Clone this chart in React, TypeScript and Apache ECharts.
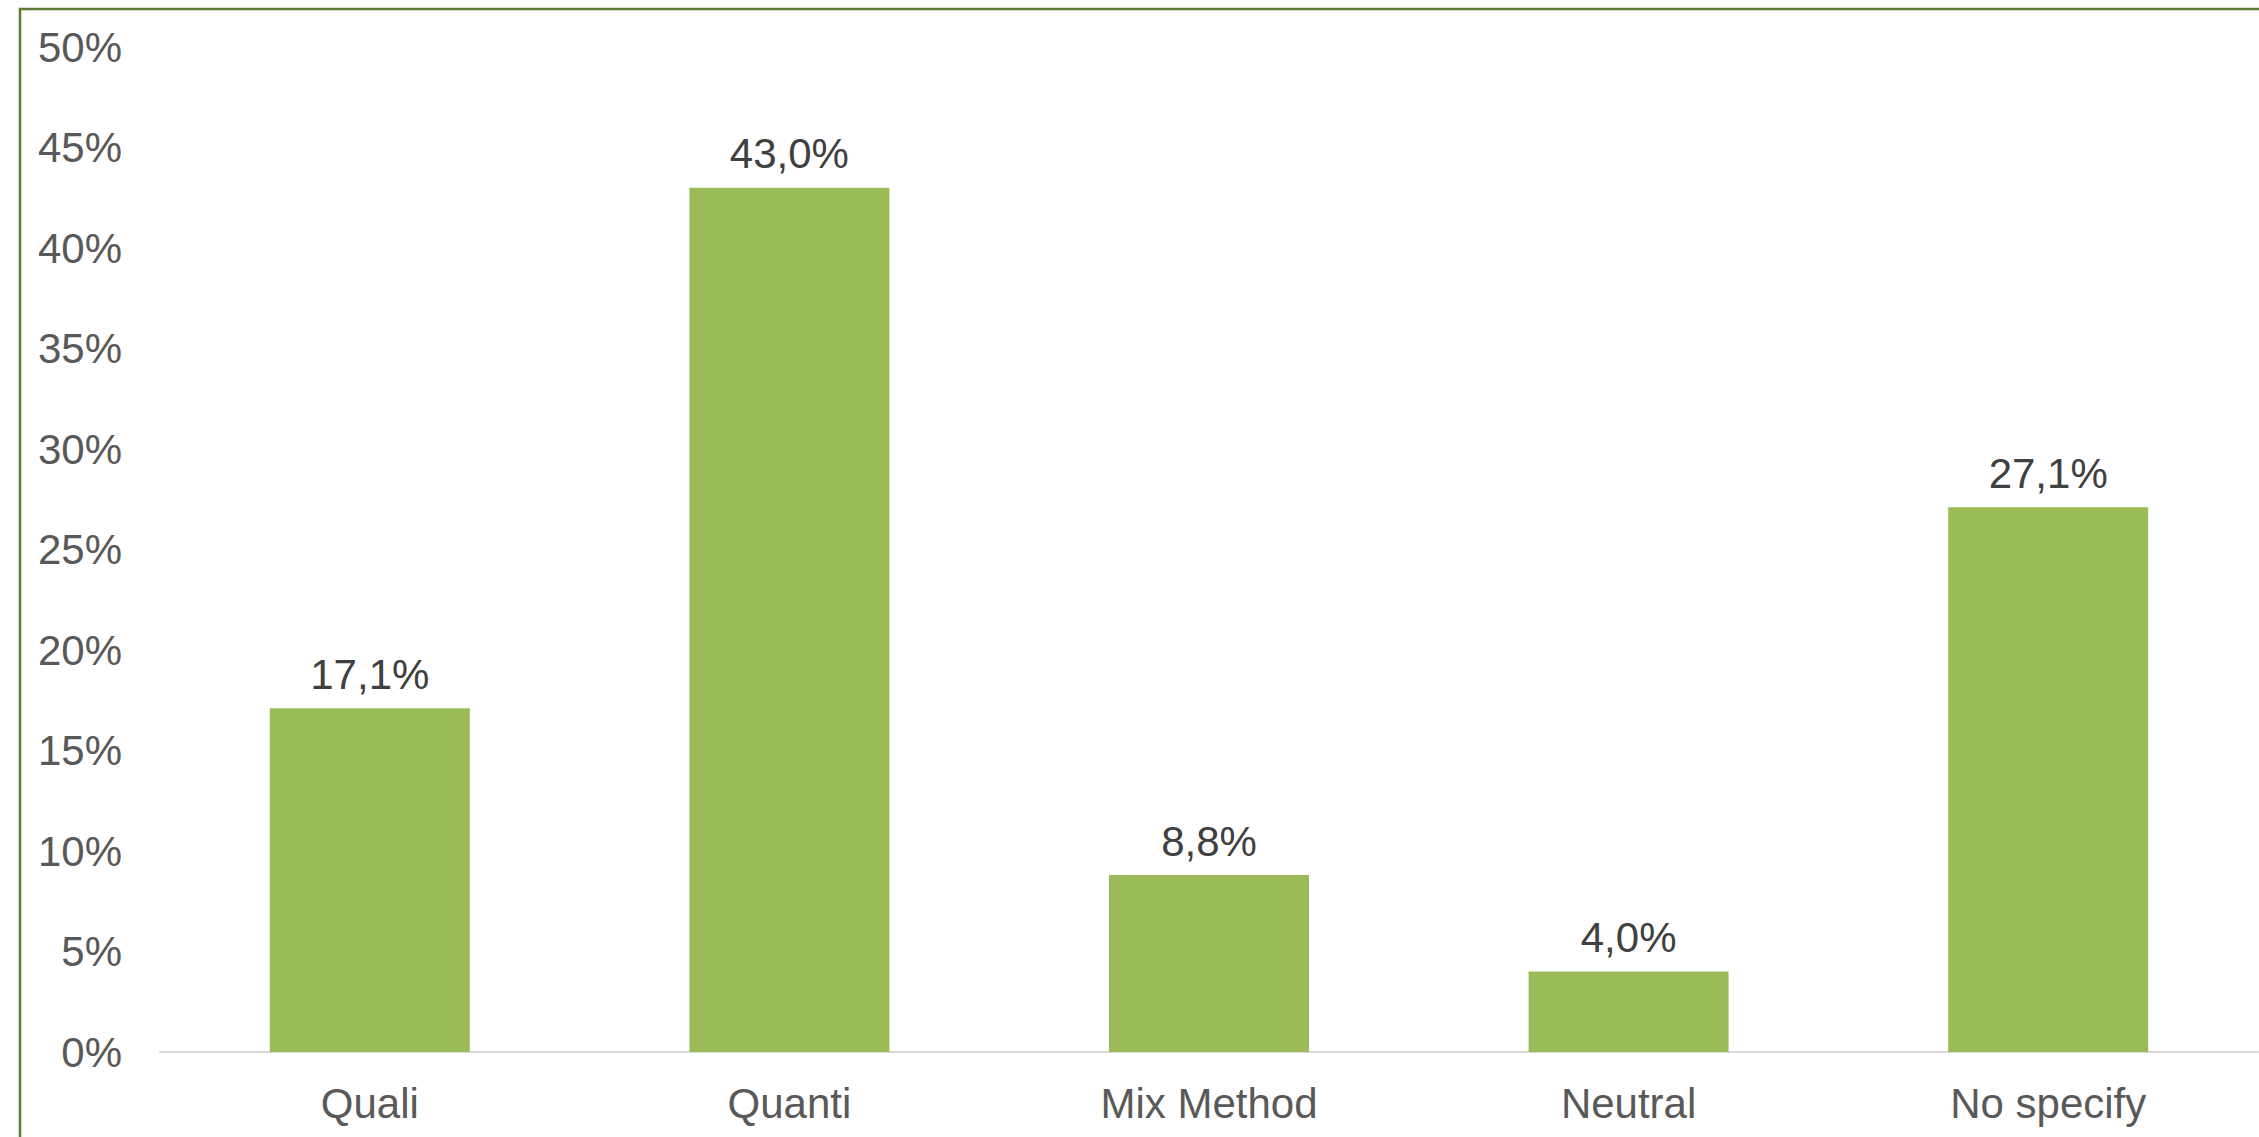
import React, { useEffect, useRef } from "react";
import * as echarts from "echarts";

const categories = ["Quali", "Quanti", "Mix Method", "Neutral", "No specify"];
const values = [17.1, 43.0, 8.8, 4.0, 27.1];
const yTicks = [0, 5, 10, 15, 20, 25, 30, 35, 40, 45, 50];

const FONT = "'Liberation Sans', Arial, sans-serif";

export default function App() {
  const ref = useRef<HTMLDivElement>(null);
  useEffect(() => {
    if (!ref.current) return;
    const chart = echarts.init(ref.current, null, { renderer: "svg" });
    chart.setOption({
      animation: false,
      backgroundColor: "#ffffff",
      graphic: [
        {
          type: "rect",
          shape: { x: 20, y: 9, width: 4000, height: 4000 },
          style: { fill: "none", stroke: "#5F7A35", lineWidth: 2.5 },
          z: 100,
          silent: true,
        },
      ],
      grid: { left: 160, right: 1, top: 47, bottom: 85, containLabel: false },
      xAxis: {
        type: "category",
        data: categories,
        axisLine: { show: true, lineStyle: { color: "#D9D9D9", width: 2 } },
        axisTick: { show: false },
        axisLabel: {
          color: "#595959",
          fontSize: 42,
          fontFamily: FONT,
          margin: 30,
        },
      },
      yAxis: {
        type: "value",
        min: yTicks[0],
        max: yTicks[yTicks.length - 1],
        interval: 5,
        splitLine: { show: false },
        axisLine: { show: false },
        axisTick: { show: false },
        axisLabel: {
          color: "#595959",
          fontSize: 42,
          fontFamily: FONT,
          margin: 38,
          formatter: (v: number) => `${v}%`,
        },
      },
      series: [
        {
          type: "bar",
          data: values,
          barWidth: 200,
          itemStyle: { color: "#9BBB59" },
          label: {
            show: true,
            position: "top",
            distance: 13,
            color: "#404040",
            fontSize: 42,
            fontFamily: FONT,
            formatter: (p: any) => `${p.value.toFixed(1).replace(".", ",")}%`,
          },
        },
      ],
    });
    return () => chart.dispose();
  }, []);
  return (
    <div
      ref={ref}
      style={{ position: "fixed", left: 0, top: 0, width: 2259, height: 1137 }}
    />
  );
}
